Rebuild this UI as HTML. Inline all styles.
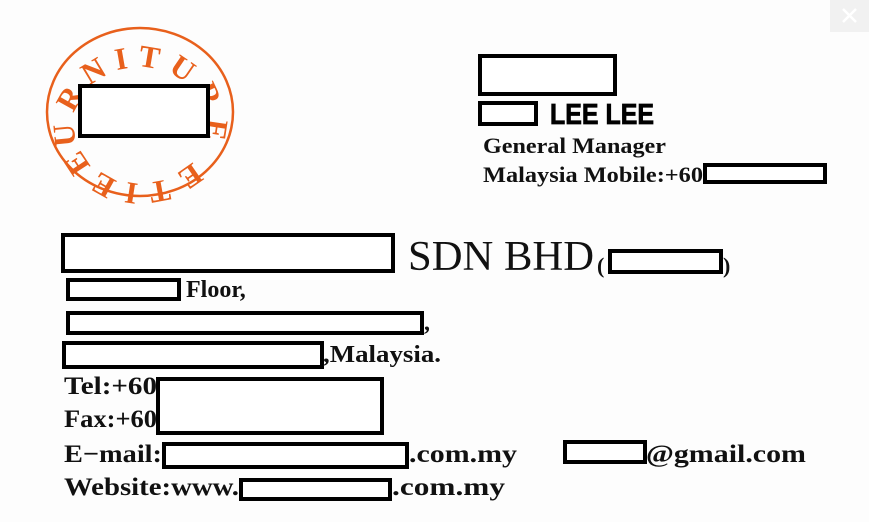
<!DOCTYPE html>
<html><head><meta charset="utf-8"><style>
html,body{margin:0;padding:0;background:#fdfdfd;}
svg{display:block}
</style></head><body>
<svg width="869" height="522" viewBox="0 0 869 522" xmlns="http://www.w3.org/2000/svg">
<rect x="0" y="0" width="869" height="522" fill="#fdfdfd"/>
<rect x="830" y="0" width="39" height="32" fill="#f1f1f1"/>
<path d="M843 9 L856 22 M856 9 L843 22" stroke="#ffffff" stroke-width="2.5"/>

<!-- stamp -->
<ellipse cx="140" cy="112" rx="93" ry="84" fill="none" stroke="#e8601c" stroke-width="2.5"/>
<defs>
<path id="ring" d="M 78 145 A 66 58 0 1 1 202 145 A 66 58 0 0 1 78 145"/>
</defs>
<text font-family="Liberation Serif, serif" font-weight="bold" font-size="31" fill="#e8601c" letter-spacing="9"><textPath href="#ring">URNITURE ETIEE</textPath></text>
<rect x="80" y="86" width="128" height="50" fill="#fff" stroke="#000" stroke-width="4"/>

<g fill="none" stroke="#000" stroke-width="4">
<rect x="480" y="56" width="135" height="38" fill="#fff"/>
<rect x="480" y="103" width="56" height="21" fill="#fff"/>
<rect x="705" y="165" width="120" height="17" fill="#fff"/>
<rect x="63" y="235" width="330" height="36" fill="#fff"/>
<rect x="610" y="251" width="111" height="21" fill="#fff"/>
<rect x="68" y="280" width="111" height="19" fill="#fff"/>
<rect x="68" y="313" width="354" height="20" fill="#fff"/>
<rect x="64" y="343" width="258" height="24" fill="#fff"/>
<rect x="158" y="379" width="224" height="54" fill="#fff"/>
<rect x="164" y="444" width="243" height="23" fill="#fff"/>
<rect x="565" y="442" width="80" height="20" fill="#fff"/>
<rect x="241" y="480" width="149" height="19" fill="#fff"/>
</g>

<g font-family="Liberation Sans, sans-serif" font-weight="bold">
<text x="550" y="124" font-size="29" textLength="104" lengthAdjust="spacingAndGlyphs" stroke="#000" stroke-width="0.8">LEE LEE</text>
</g>
<g font-family="Liberation Serif, serif" font-weight="bold" fill="#111">
<text x="483" y="153" font-size="22" textLength="183" lengthAdjust="spacingAndGlyphs">General Manager</text>
<text x="483" y="182" font-size="22" textLength="220" lengthAdjust="spacingAndGlyphs">Malaysia Mobile:+60</text>
<text x="186" y="297" font-size="24">Floor,</text>
<text x="424" y="330" font-size="24">,</text>
<text x="323" y="362" font-size="24" textLength="118" lengthAdjust="spacingAndGlyphs">,Malaysia.</text>
<text x="64" y="394" font-size="25" textLength="93" lengthAdjust="spacingAndGlyphs">Tel:+60</text>
<text x="64" y="427" font-size="25" textLength="93" lengthAdjust="spacingAndGlyphs">Fax:+60</text>
<text x="64" y="462" font-size="25" textLength="98" lengthAdjust="spacingAndGlyphs">E−mail:</text>
<text x="409" y="462" font-size="25" textLength="108" lengthAdjust="spacingAndGlyphs">.com.my</text>
<text x="646" y="462" font-size="25" textLength="160" lengthAdjust="spacingAndGlyphs">@gmail.com</text>
<text x="64" y="495" font-size="25" textLength="175" lengthAdjust="spacingAndGlyphs">Website:www.</text>
<text x="392" y="495" font-size="25" textLength="113" lengthAdjust="spacingAndGlyphs">.com.my</text>
</g>
<g font-family="Liberation Serif, serif" fill="#111">
<text x="408" y="270" font-size="42" textLength="186" lengthAdjust="spacingAndGlyphs">SDN BHD</text>
<text x="597" y="273" font-size="22" font-weight="bold">(</text>
<text x="723" y="273" font-size="22" font-weight="bold">)</text>
</g>
</svg>
</body></html>
